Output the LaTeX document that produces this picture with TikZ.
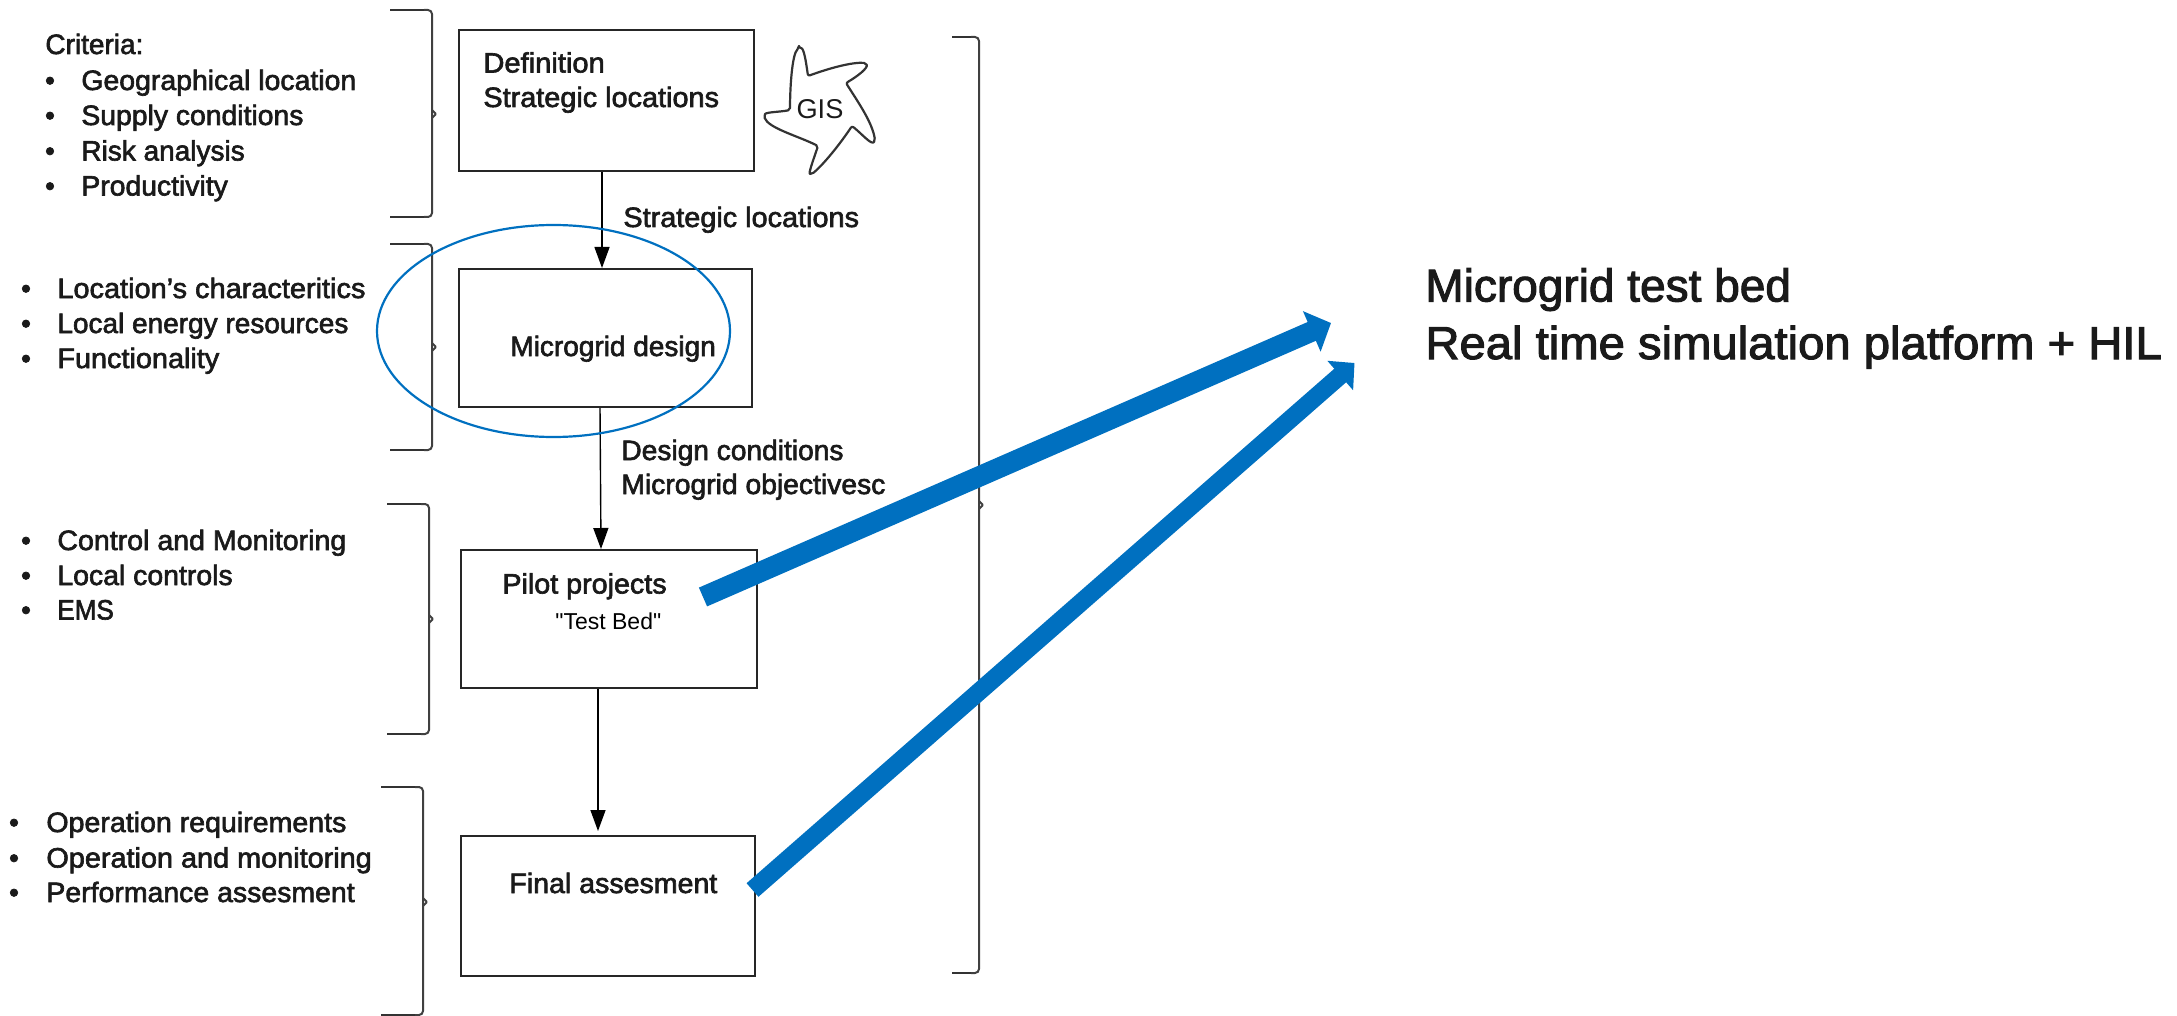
\documentclass[tikz,border=0pt]{standalone}
\usepackage{graphicx}
\usepackage{fontspec}
\setmainfont{Liberation Sans}[FakeBold=2.2]
\newfontfamily\plainfont{Liberation Sans}
\usetikzlibrary{arrows.meta,shapes.geometric}
\definecolor{msblue}{HTML}{0070C0}
\definecolor{ink}{HTML}{1A1A1A}
\tikzset{
  flowbox/.style={draw=black!85,line width=1pt,rectangle,inner sep=0pt,fill=white},
  flow/.style={draw=black,line width=.7pt,-{Triangle[length=10.5pt,width=7.5pt]}},
  txt/.style={anchor=base west,inner sep=0pt,text=ink,font=\fontsize{14}{16}\selectfont},
  bul/.style={anchor=base,inner sep=0pt,text=ink,font=\fontsize{14}{16}\selectfont},
  headline/.style={anchor=base west,inner sep=0pt,text=ink,font=\fontsize{23}{26}\selectfont},
  bigarrow/.style={draw=msblue,line cap=butt},
  brk/.style={draw=black!75,line width=1pt,rounded corners=2pt},
  brkstub/.style={draw=black!80,line width=1.3pt},
}
\newcommand{\sx}[2]{\scalebox{#1}[1]{#2}}
% right bracket: #1 left x, #2 spine x, #3 top y, #4 middle y, #5 bottom y
\newcommand{\groupbracket}[5]{
  \draw[brkstub] (#1,#3) -- (#2-5,#3);
  \draw[brkstub] (#1,#5) -- (#2-5,#5);
  \draw[brk] (#2-8,#3) -- (#2,#3) -- (#2,#5) -- (#2-8,#5);
  \draw[brk,rounded corners=.5pt] (#2,#4-4) -- (#2+4,#4) -- (#2,#4+4);
}
\begin{document}
\begin{tikzpicture}[x=.5pt,y=-.5pt]
\useasboundingbox (0,0) rectangle (2177,1016);

% boxes
\node[flowbox,minimum width=147.5pt,minimum height=70.5pt] (box1) at (606.5,100.5) {};
\node[flowbox,minimum width=146.5pt,minimum height=69pt] (box2) at (605.5,338) {};
\node[flowbox,minimum width=148pt,minimum height=69pt] (box3) at (609,619) {};
\node[flowbox,minimum width=147pt,minimum height=70pt] (box4) at (608,906) {};

% flow connectors
\draw[flow] ([xshift=-2.25pt]box1.south) -- ([xshift=-1.75pt]box2.north);
\draw[flow] ([xshift=-2.75pt]box2.south) -- ([xshift=-4pt]box3.north);
\coordinate (a3end) at (598,831);
\draw[flow] ([xshift=-5.5pt]box3.south) -- (a3end);

% side brackets
\groupbracket{390}{432}{10}{114}{217}
\groupbracket{390}{432}{244}{347}{450}
\groupbracket{387}{429}{504}{619}{734}
\groupbracket{381}{423}{787}{902}{1015}
\groupbracket{952}{979}{37}{505}{973}

% box texts
\node[txt] (t1) at (483,72.5) {\sx{1.04}{Definition}};
\node[txt] (t2) at (483,107) {\sx{1.03}{Strategic locations}};
\node[txt] (t3) at (510,356) {Microgrid design};
\node[txt] (t4) at (502,593.5) {\sx{1.025}{Pilot projects}};
\node[anchor=base west,inner sep=0pt,font=\fontsize{11.5}{13}\selectfont\plainfont] (t5) at (555,629.5) {"Test Bed"};
\node[txt] (t6) at (509,893) {\sx{1.02}{Final assesment}};

% connector labels
\node[txt] (c1) at (623,227) {\sx{1.03}{Strategic locations}};
\node[txt] (c2) at (621,460) {\sx{1.005}{Design conditions}};
\node[txt] (c3) at (621,494) {\sx{1.01}{Microgrid objectivesc}};

% criteria lists
\node[txt] (l0) at (45,54) {Criteria:};
\node[bul] (d1) at (50,90) {•};   \node[txt] (l1) at (81,90) {\sx{1.015}{Geographical location}};
\node[bul] (d2) at (50,125) {•};  \node[txt] (l2) at (81,125) {\sx{1.012}{Supply conditions}};
\node[bul] (d3) at (50,160.5) {•};\node[txt] (l3) at (81,160.5) {Risk analysis};
\node[bul] (d4) at (50,195.5) {•};\node[txt] (l4) at (81,195.5) {\sx{1.012}{Productivity}};

\node[bul] (d5) at (26,298) {•};  \node[txt] (l5) at (57,298) {\sx{1.033}{Location’s characteritics}};
\node[bul] (d6) at (26,333) {•};  \node[txt] (l6) at (57,333) {Local energy resources};
\node[bul] (d7) at (26,368) {•};  \node[txt] (l7) at (57,368) {\sx{1.03}{Functionality}};

\node[bul] (d8) at (26,550) {•};  \node[txt] (l8) at (57,550) {\sx{1.02}{Control and Monitoring}};
\node[bul] (d9) at (26,585) {•};  \node[txt] (l9) at (57,585) {\sx{1.015}{Local controls}};
\node[bul] (d10) at (26,619.5) {•};\node[txt] (l10) at (57,619.5) {\sx{.93}{EMS}};

\node[bul] (d11) at (14,832) {•}; \node[txt] (l11) at (46,832) {\sx{1.02}{Operation requirements}};
\node[bul] (d12) at (14,867.5) {•};\node[txt] (l12) at (46,867.5) {\sx{1.03}{Operation and monitoring}};
\node[bul] (d13) at (14,902) {•}; \node[txt] (l13) at (46,902) {\sx{1.016}{Performance assesment}};

% GIS star
\draw[line width=1.1pt,black!80,line join=round,rounded corners=1pt,shift={(740,30)}]
  (59,18) .. controls (64,18) and (66,32) .. (68,46)
  .. controls (90,38) and (112,32) .. (126,33)
  .. controls (128,38) and (118,46) .. (106,53)
  .. controls (118,72) and (132,92) .. (135,110)
  .. controls (132,116) and (122,104) .. (112,96)
  .. controls (100,114) and (84,134) .. (72,144)
  .. controls (68,144) and (74,128) .. (78,116)
  .. controls (58,106) and (28,98) .. (24,86)
  .. controls (26,82) and (40,82) .. (50,80)
  .. controls (50,58) and (52,24) .. (59,18) -- cycle;
\node[anchor=center,inner sep=0pt,font=\fontsize{13.6}{15}\selectfont\plainfont,text=ink] (gis) at (820,109) {GIS};

% headline
\node[headline] (h1) at (1425,301.5) {Microgrid test bed};
\node[headline] (h2) at (1425,359) {\sx{1.027}{Real time simulation platform + HIL}};

% highlight
\node[draw=msblue,line width=1.1pt,ellipse,minimum width=176.5pt,minimum height=106pt,inner sep=0pt] (ring) at (553.5,331) {};

% thick arrows towards the headline
\coordinate (b1s) at (703,597);
\coordinate (b1e) at (1331,323);
\coordinate (b2s) at (752.5,890);
\coordinate (b2e) at (1354.5,363);
\draw[bigarrow,line width=10.25pt,-{Triangle[length=10.5pt,width=21.5pt]}] (b1s) -- (b1e);
\draw[bigarrow,line width=9pt,-{Triangle[length=9.5pt,width=19pt]}] (b2s) -- (b2e);
\end{tikzpicture}
\end{document}
